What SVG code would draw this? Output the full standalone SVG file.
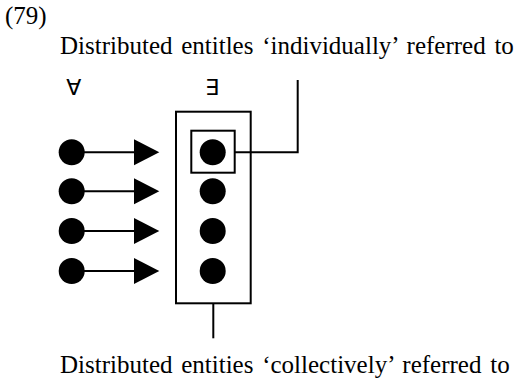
<svg xmlns="http://www.w3.org/2000/svg" width="519" height="379" viewBox="0 0 519 379">
<defs>
<style>
.t{font-family:"Liberation Serif","Times New Roman",serif;font-size:25px;fill:#000}
.w{word-spacing:2.5px}
.q{font-family:"DejaVu Sans",sans-serif;font-size:22px;fill:#000;text-anchor:middle}
.ln{stroke:#000;stroke-width:2;fill:none}
.dot{fill:#000}
</style>
</defs>
<rect width="519" height="379" fill="#fff"/>
<text class="t" x="5" y="24">(79)</text>
<text class="t w" x="60" y="54">Distributed entitles ‘individually’ referred to</text>
<text class="q" x="73.8" y="95">∀</text>
<text class="q" x="212.2" y="95">∃</text>
<g id="sources">
<circle class="dot" cx="71.7" cy="152.3" r="13"/>
<circle class="dot" cx="71.7" cy="191.3" r="13"/>
<circle class="dot" cx="71.7" cy="231" r="13"/>
<circle class="dot" cx="71.7" cy="271" r="13"/>
</g>
<g id="container">
<rect class="ln" x="176" y="111.7" width="74.7" height="191.6"/>
<rect class="ln" x="191.3" y="130.7" width="43.4" height="42"/>
<circle class="dot" cx="212.7" cy="152.3" r="13"/>
<circle class="dot" cx="212.7" cy="191.3" r="13"/>
<circle class="dot" cx="212.7" cy="231" r="13"/>
<circle class="dot" cx="212.7" cy="271" r="13"/>
</g>
<g id="connectors">
<line class="ln" x1="72" y1="152.3" x2="136" y2="152.3"/>
<line class="ln" x1="72" y1="191.3" x2="136" y2="191.3"/>
<line class="ln" x1="72" y1="231" x2="136" y2="231"/>
<line class="ln" x1="72" y1="271" x2="136" y2="271"/>
<polygon class="dot" points="134,139.3 159.3,152.3 134,165.3"/>
<polygon class="dot" points="134,178.3 159.3,191.3 134,204.3"/>
<polygon class="dot" points="134,218 159.3,231 134,244"/>
<polygon class="dot" points="134,258 159.3,271 134,284"/>
<polyline class="ln" points="234.7,152.3 297.7,152.3 297.7,80"/>
<line class="ln" x1="213.3" y1="303.3" x2="213.3" y2="338.3"/>
</g>
<text class="t w" x="60" y="373.3">Distributed entities ‘collectively’ referred to</text>
</svg>
